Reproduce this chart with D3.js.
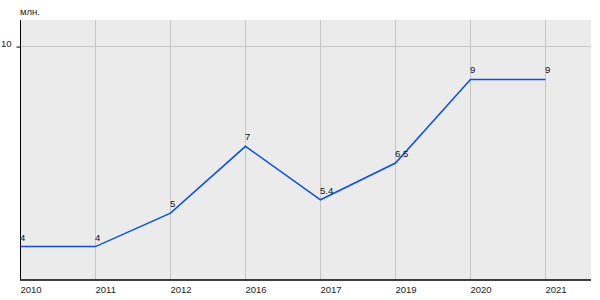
<!DOCTYPE html>
<html><head><meta charset="utf-8">
<script src="https://cdn.jsdelivr.net/npm/d3@7"></script>
<style>body{margin:0;background:#fff}svg{display:block}text{font-family:"Liberation Sans",Arial,sans-serif}</style>
</head><body><svg id="c" width="600" height="300"></svg>
<script>
const categories = ["2010","2011","2012","2016","2017","2019","2020","2021"];
const values = [4, 4, 5, 7, 5.4, 6.5, 9, 9];
const valueLabels = ["4","4","5","7","5.4","6.5","9","9"];
const yTicks = [10];
const unitLabel = "млн.";

const svg = d3.select("#c");
const L = 20, R = 591, T = 20, B = 280;
const x = d3.scalePoint().domain(categories).range([20.5, 545.5]);
const y = d3.scaleLinear().domain([3, 10.78]).range([B, T]);

svg.append("rect").attr("x", L).attr("y", T).attr("width", R - L).attr("height", B - T).attr("fill", "#ebebeb");

const g = svg.append("g");
g.selectAll(".vg").data(categories.slice(1)).join("line")
  .attr("x1", d => x(d)).attr("x2", d => x(d)).attr("y1", T).attr("y2", B)
  .attr("stroke", "#c6c6c6").attr("stroke-width", 1);
g.selectAll(".hg").data(yTicks).join("line")
  .attr("x1", L).attr("x2", R).attr("y1", d => Math.round(y(d)) + 0.5).attr("y2", d => Math.round(y(d)) + 0.5)
  .attr("stroke", "#c6c6c6").attr("stroke-width", 1);

const yAxis = d3.axisLeft(y).tickValues(yTicks).tickSize(4).tickPadding(5);
const ya = svg.append("g").attr("transform", `translate(${L + 0.5},0)`).call(yAxis);
ya.select(".domain").attr("d", `M0,${T}V${B}`).attr("stroke", "#000");
ya.selectAll(".tick line").attr("transform", "translate(0,0.5)");
ya.selectAll("text").attr("font-size", 9.5).attr("font-family", "Liberation Sans, Arial, sans-serif").attr("fill", "#222")
  .attr("dy", null).attr("y", 0);

const xAxis = d3.axisBottom(x).tickSize(0).tickPadding(0);
const xa = svg.append("g").attr("transform", `translate(0,${B})`).call(xAxis);
xa.select(".domain").attr("d", `M${L},0H${R}`).attr("stroke", "#000").attr("stroke-width", 1.5);
xa.selectAll("text").attr("font-size", 9.5).attr("font-family", "Liberation Sans, Arial, sans-serif").attr("fill", "#222")
  .attr("text-anchor", "start").attr("dy", null).attr("y", 12.5).attr("x", -0.5);

const line = d3.line().x((d, i) => x(categories[i])).y(d => y(d));
svg.append("path").datum(values).attr("d", line).attr("fill", "none")
  .attr("stroke", "#0a4fe3").attr("stroke-width", 1.5);

svg.selectAll(".vl").data(values).join("text")
  .attr("x", (d, i) => x(categories[i]) - 0.5).attr("y", d => y(d) - 6)
  .attr("font-size", 9.5).attr("fill", "#111").text((d, i) => valueLabels[i]);

svg.append("text").attr("x", 20).attr("y", 15).attr("font-size", 9.5).attr("fill", "#222").text(unitLabel);
</script></body></html>
